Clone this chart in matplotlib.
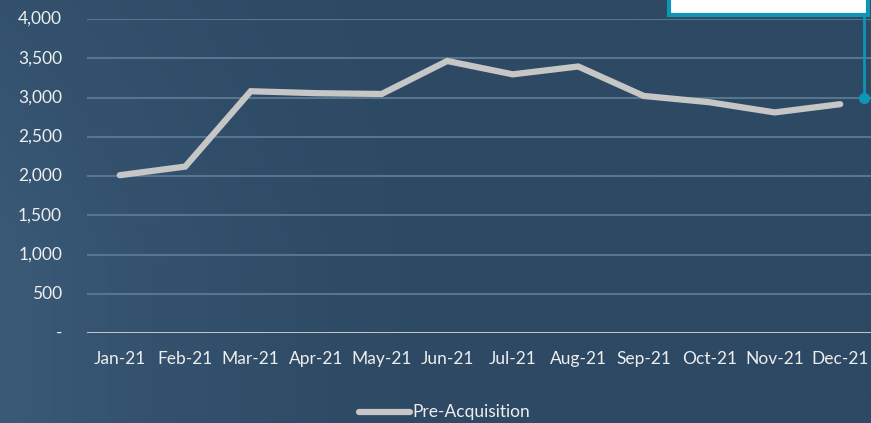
import matplotlib.pyplot as plt
import matplotlib.patches as patches
from matplotlib.lines import Line2D
import numpy as np

months = ["Jan-21", "Feb-21", "Mar-21", "Apr-21", "May-21", "Jun-21",
          "Jul-21", "Aug-21", "Sep-21", "Oct-21", "Nov-21", "Dec-21"]
pre_acq = [2010, 2120, 3080, 3055, 3045, 3465, 3295, 3395, 3020, 2940, 2810, 2915]
yticks = [0, 500, 1000, 1500, 2000, 2500, 3000, 3500, 4000]
ytick_labels = ["-", "500", "1,000", "1,500", "2,000", "2,500", "3,000", "3,500", "4,000"]
series_name = "Pre-Acquisition"

W, H = 871, 423
TXT = "#eeeeee"
plt.rcParams["font.family"] = ["Lato", "DejaVu Sans"]
fig = plt.figure(figsize=(W / 100, H / 100), dpi=100)

# background gradient, a bit lighter at the left edge
bg = fig.add_axes([0, 0, 1, 1], zorder=-10)
xx, yy = np.meshgrid(np.linspace(0, 1, 300), np.linspace(0, 1, 150))
t = np.clip(1 - xx * 1.6, 0, 1) ** 2 * np.clip(0.5 + 0.8 * yy, 0, 1)
c0 = np.array([0x2d, 0x49, 0x64]) / 255
c1 = np.array([0x3a, 0x5a, 0x77]) / 255
img = c0 + (c1 - c0) * t[..., None]
bg.imshow(img, aspect="auto", extent=[0, 1, 0, 1], origin="upper")
bg.axis("off")

ax = fig.add_axes([87 / W, (H - 333) / H, (W - 87) / W, 314 / H])
ax.patch.set_alpha(0)
x = np.arange(len(months))
ax.plot(x, pre_acq, color="#c6c6c6", lw=4.5, solid_capstyle="round",
        solid_joinstyle="miter", zorder=3)
ax.set_xlim(-0.5, 11.47)
ax.set_ylim(0, 4000)
ax.set_yticks(yticks[1:])
ax.yaxis.grid(True, color="#587590", lw=1.5)
ax.axhline(0, color="#d4d4d4", lw=2, zorder=2)
for s in ax.spines.values():
    s.set_visible(False)
ax.tick_params(length=0)
ax.set_yticklabels([])
ax.set_xticks(x)
ax.set_xticklabels(months, color=TXT, fontsize=12.5)
ax.tick_params(axis="x", pad=13)
for v, lab in zip(yticks, ytick_labels):
    ax.text(-0.88, v, lab, ha="right", va="center", color=TXT,
            fontsize=12.5, transform=ax.transData, clip_on=False)

# callout
ax.plot([11.37, 11.37], [3000, 4300], color="#0e96b8", lw=2, clip_on=False, zorder=4)
ax.plot([11.37], [3000], "o", color="#0e96b8", ms=7, clip_on=False, zorder=4)
box = patches.Rectangle((669 / W, (H - 15) / H), 199 / W, 40 / H, transform=fig.transFigure,
                        facecolor="white", edgecolor="#0e96b8", lw=3, zorder=5)
fig.patches.append(box)

# legend
fig.add_artist(Line2D([359 / W, 410 / W], [(H - 412) / H] * 2, color="#c6c6c6", lw=4.5,
                      solid_capstyle="round"))
fig.text(412 / W, (H - 412) / H, series_name, ha="left", va="center", color=TXT,
         fontsize=12.5)

fig.savefig("out.png", dpi=100)
